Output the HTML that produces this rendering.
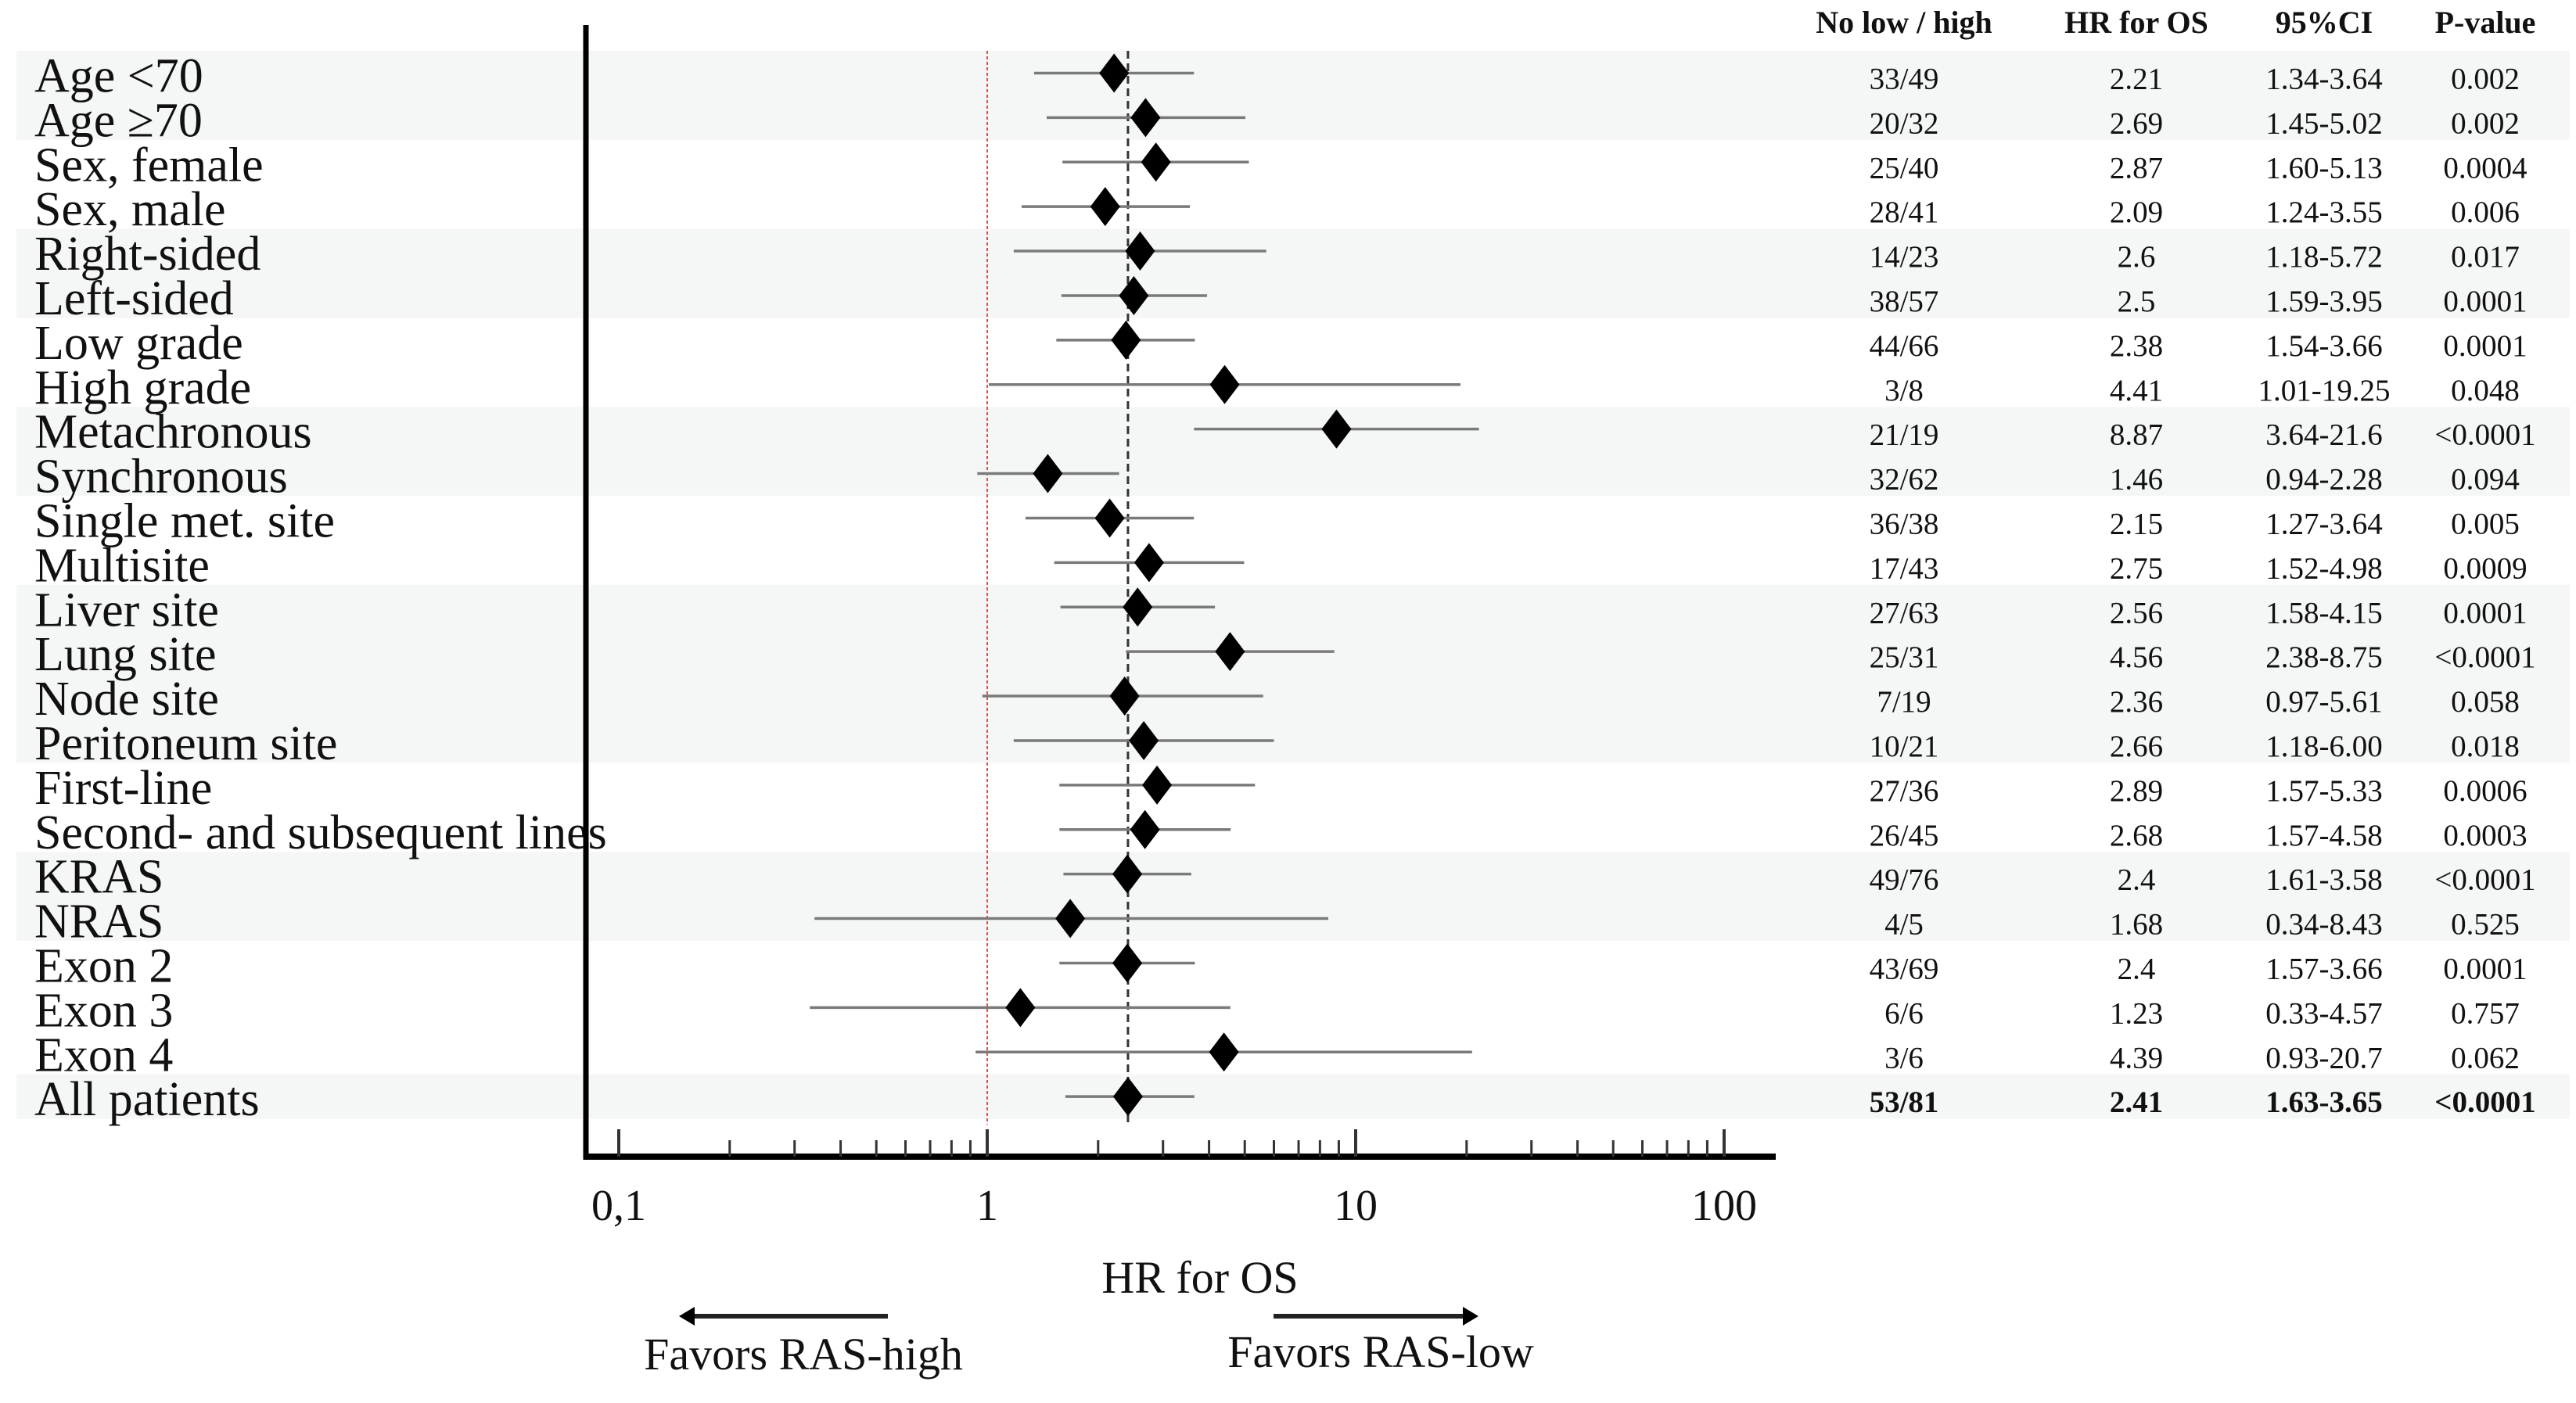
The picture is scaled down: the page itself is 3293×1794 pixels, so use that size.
<!DOCTYPE html>
<html><head><meta charset="utf-8">
<style>
html,body{margin:0;padding:0;background:#fff;}
svg{display:block;}
text{font-family:"Liberation Serif",serif;fill:#111;}
</style></head>
<body>
<svg id="chart" width="3293" height="1794" viewBox="0 0 3293 1794" xmlns="http://www.w3.org/2000/svg">
<g id="bands"></g>
<g id="refs"></g>
<g id="bars"></g>
<g id="labels"></g>
<g id="table"></g>
<g id="axis"></g>
</svg>
<script>
const categories=["Age <70","Age ≥70","Sex, female","Sex, male","Right-sided","Left-sided","Low grade","High grade","Metachronous","Synchronous","Single met. site","Multisite","Liver site","Lung site","Node site","Peritoneum site","First-line","Second- and subsequent lines","KRAS","NRAS","Exon 2","Exon 3","Exon 4","All patients"];
const groupSizes=[2,2,2,2,2,2,4,2,2,3,1];
const counts=["33/49","20/32","25/40","28/41","14/23","38/57","44/66","3/8","21/19","32/62","36/38","17/43","27/63","25/31","7/19","10/21","27/36","26/45","49/76","4/5","43/69","6/6","3/6","53/81"];
const hr=[2.21,2.69,2.87,2.09,2.6,2.5,2.38,4.41,8.87,1.46,2.15,2.75,2.56,4.56,2.36,2.66,2.89,2.68,2.4,1.68,2.4,1.23,4.39,2.41];
const hrLabels=["2.21","2.69","2.87","2.09","2.6","2.5","2.38","4.41","8.87","1.46","2.15","2.75","2.56","4.56","2.36","2.66","2.89","2.68","2.4","1.68","2.4","1.23","4.39","2.41"];
const ciLow=[1.34,1.45,1.60,1.24,1.18,1.59,1.54,1.01,3.64,0.94,1.27,1.52,1.58,2.38,0.97,1.18,1.57,1.57,1.61,0.34,1.57,0.33,0.93,1.63];
const ciHigh=[3.64,5.02,5.13,3.55,5.72,3.95,3.66,19.25,21.6,2.28,3.64,4.98,4.15,8.75,5.61,6.00,5.33,4.58,3.58,8.43,3.66,4.57,20.7,3.65];
const ciLabels=["1.34-3.64","1.45-5.02","1.60-5.13","1.24-3.55","1.18-5.72","1.59-3.95","1.54-3.66","1.01-19.25","3.64-21.6","0.94-2.28","1.27-3.64","1.52-4.98","1.58-4.15","2.38-8.75","0.97-5.61","1.18-6.00","1.57-5.33","1.57-4.58","1.61-3.58","0.34-8.43","1.57-3.66","0.33-4.57","0.93-20.7","1.63-3.65"];
const pValues=["0.002","0.002","0.0004","0.006","0.017","0.0001","0.0001","0.048","<0.0001","0.094","0.005","0.0009","0.0001","<0.0001","0.058","0.018","0.0006","0.0003","<0.0001","0.525","0.0001","0.757","0.062","<0.0001"];
const headers=["No low / high","HR for OS","95%CI","P-value"];
const majorTicks=[0.1,1,10,100];
const tickLabels=["0,1","1","10","100"];
const overallHR=2.41;

const NS="http://www.w3.org/2000/svg";
function el(tag,attrs,parent,txt){const e=document.createElementNS(NS,tag);for(const k in attrs)e.setAttribute(k,attrs[k]);if(txt!==undefined)e.textContent=txt;parent.appendChild(e);return e;}
const X0=1262,DEC=471;
function xs(v){return X0+DEC*Math.log10(v);}
const ROW0=65,RH=56.9;
function yc(i){return ROW0+RH*(i+0.5);}
const n=categories.length;
const bands=document.getElementById('bands');
let start=0;
groupSizes.forEach((g,k)=>{
 if(k%2===0){
  const r=el('rect',{x:21,y:ROW0+RH*start,width:3264,height:RH*g,fill:'#f5f6f6'},bands);
  
  
 }
 start+=g;
});
const refs=document.getElementById('refs');
const yTop=ROW0,yBot=1438;
let l=el('line',{x1:xs(1),x2:xs(1),y1:yTop,y2:yBot,stroke:'#d9534f','stroke-width':2,'stroke-dasharray':'4 3'},refs);


l=el('line',{x1:xs(overallHR),x2:xs(overallHR),y1:yTop,y2:yBot,stroke:'#333','stroke-width':3,'stroke-dasharray':'10 6'},refs);


const bars=document.getElementById('bars'),labels=document.getElementById('labels'),table=document.getElementById('table');
const cols=[2434,2731,2971,3177];
headers.forEach((h,j)=>{
 const t=el('text',{x:cols[j],y:42,'font-size':40,'font-weight':'bold','text-anchor':'middle'},table,h);
 
 
});
for(let i=0;i<n;i++){
 const y=yc(i);
 const ci=el('line',{x1:xs(ciLow[i]),x2:xs(ciHigh[i]),y1:y,y2:y,stroke:'#7a7a7a','stroke-width':3.5},bars);
 
 
 const cx=xs(hr[i]);
 const d=el('polygon',{points:`${cx-19},${y} ${cx},${y-25} ${cx+19},${y} ${cx},${y+25}`,fill:'#000'},bars);
 
 
 const lab=el('text',{x:44,y:y+24,'font-size':62},labels,categories[i]);
 
 
 const vals=[counts[i],hrLabels[i],ciLabels[i],pValues[i]];
 vals.forEach((v,j)=>{
  const t=el('text',{x:cols[j],y:y+20,'font-size':39,'text-anchor':'middle','font-weight':i===n-1?'bold':'normal'},table,v);
  
  
 });
}
const axis=document.getElementById('axis');
let a=el('line',{x1:749,x2:749,y1:32,y2:1483,stroke:'#000','stroke-width':7},axis);


a=el('line',{x1:746,x2:2270,y1:1479,y2:1479,stroke:'#000','stroke-width':8},axis);


for(let d=0;d<3;d++){
 for(let m=2;m<=9;m++){
  const v=majorTicks[d]*m;
  const t=el('line',{x1:xs(v),x2:xs(v),y1:1458,y2:1479,stroke:'#333','stroke-width':3},axis);
  
  
 }
}
majorTicks.forEach((v,j)=>{
 const t=el('line',{x1:xs(v),x2:xs(v),y1:1444,y2:1479,stroke:'#333','stroke-width':4},axis);
 
 
 const tl=el('text',{x:xs(v),y:1560,'font-size':56,'text-anchor':'middle'},axis,tickLabels[j]);
 
 
});
let t=el('text',{x:1534,y:1653,'font-size':58,'text-anchor':'middle'},axis,'HR for OS');


t=el('line',{x1:885,x2:1135,y1:1683,y2:1683,stroke:'#222','stroke-width':6},axis);


t=el('polygon',{points:'868,1683 888,1671 888,1695',fill:'#000'},axis);


t=el('line',{x1:1628,x2:1872,y1:1683,y2:1683,stroke:'#222','stroke-width':6},axis);


t=el('polygon',{points:'1890,1683 1870,1671 1870,1695',fill:'#000'},axis);


t=el('text',{x:1027,y:1751,'font-size':58,'text-anchor':'middle'},axis,'Favors RAS-high');


t=el('text',{x:1765,y:1748,'font-size':58,'text-anchor':'middle'},axis,'Favors RAS-low');


</script>
</body></html>
